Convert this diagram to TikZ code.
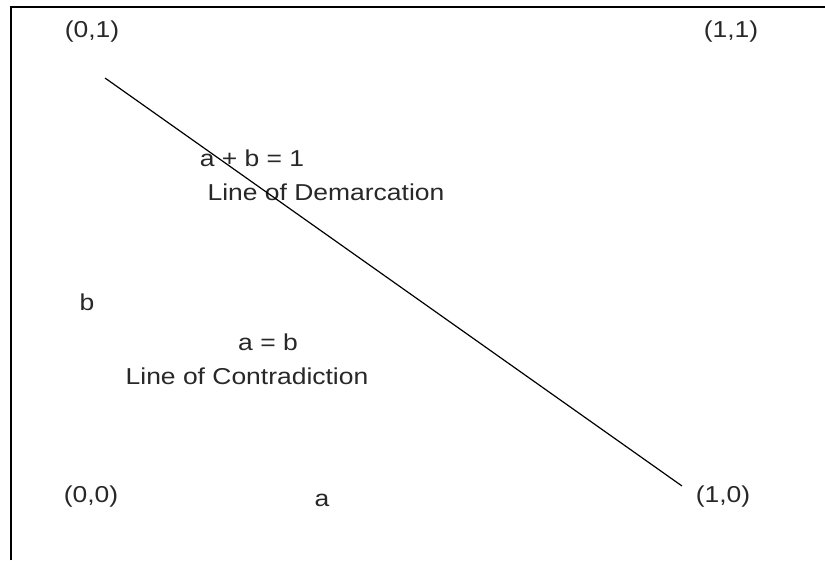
\documentclass[tikz,border=0pt]{standalone}
\usepackage{fontspec}
\setmainfont[FakeStretch=1.15]{Liberation Sans}
\definecolor{txt}{RGB}{40,40,40}
\begin{document}
\begin{tikzpicture}[x=1pt,y=-1pt,
  lbl/.style={text=txt,inner sep=0pt,anchor=center,font=\fontsize{23}{27}\selectfont}]
\useasboundingbox (0,0) rectangle (825,560);
\fill[white] (0,0) rectangle (825,560);
\draw[line width=2pt] (11,560) -- (11,7) -- (825,7);
\node[lbl] (c01) at (92,32) {(0,1)};
\node[lbl] (c11) at (731,32) {(1,1)};
\node[lbl] (c00) at (91,497) {(0,0)};
\node[lbl] (c10) at (723,497) {(1,0)};
\node[lbl] (la) at (322,500) {a};
\node[lbl] (lb) at (87,302) {b};
\node[lbl] (eq1) at (252,158) {a + b = 1};
\node[lbl] (dem) at (326,192) {Line of Demarcation};
\node[lbl] (eq2) at (268,342) {a = b};
\node[lbl] (con) at (247,376) {Line of Contradiction};
\coordinate (p) at (105,78);
\coordinate (q) at (682,486);
\draw[line width=1.2pt] (p) -- (q);
\end{tikzpicture}
\end{document}
